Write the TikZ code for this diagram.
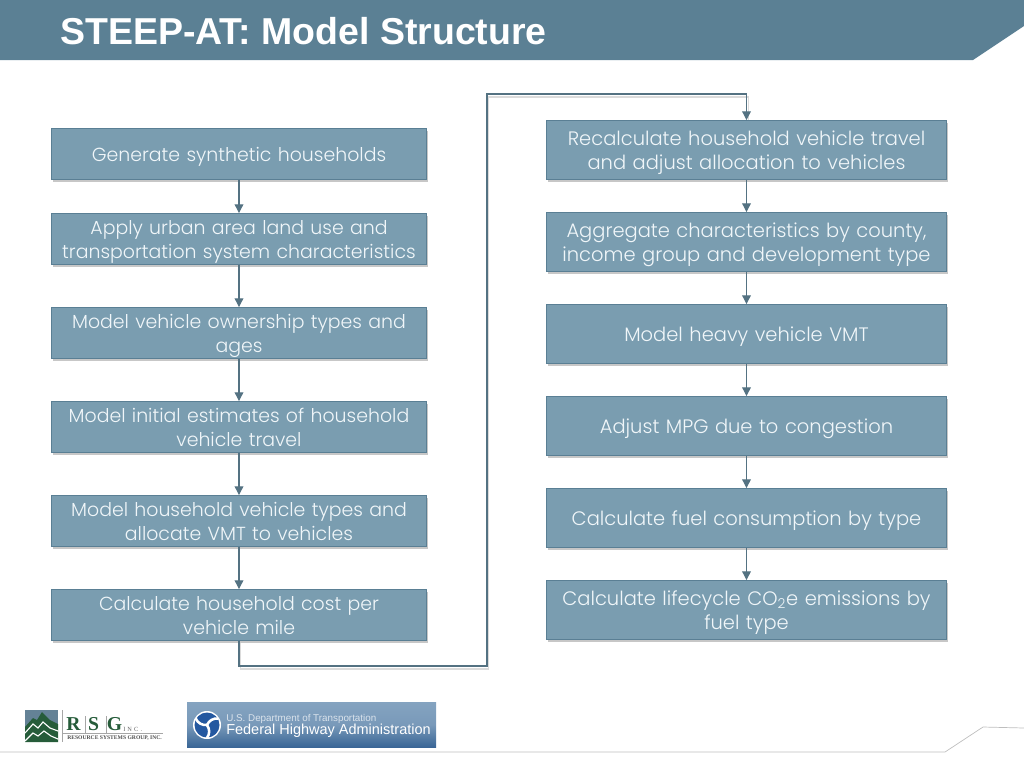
\documentclass[tikz,border=0pt]{standalone}
\usepackage{fontspec}
\setmainfont{Poppins Light}
\newfontfamily\titlefont{Liberation Sans}
\newfontfamily\logofont{Liberation Serif}
\newfontfamily\fhwafont{Liberation Sans}
\usetikzlibrary{arrows.meta, positioning, calc, shadows}
\definecolor{SteepHeader}{RGB}{91, 128, 148}
\definecolor{SteepBox}{RGB}{122, 157, 176}
\definecolor{SteepBorder}{RGB}{90, 127, 148}
\definecolor{SteepLine}{RGB}{84, 114, 130}
\definecolor{SteepText}{RGB}{240, 246, 249}
\definecolor{SteepFoot}{RGB}{190, 190, 190}
\definecolor{RsgGreen}{RGB}{38, 92, 58}
\definecolor{RsgSlate}{RGB}{100, 130, 150}
\definecolor{FhwaTop}{RGB}{132, 163, 192}
\definecolor{FhwaBot}{RGB}{58, 102, 150}
\definecolor{FhwaDisc}{RGB}{36, 88, 160}
\tikzset{
  stagebox/.style={draw=SteepBorder, line width=0.5pt, fill=SteepBox, text=SteepText, align=center,
    inner sep=0pt, text width=93.8mm, font=\fontsize{13.45}{17}\selectfont,
    execute at end node={\vphantom{Ag}\vspace{-1.5mm}},
    drop shadow={shadow xshift=0.4mm, shadow yshift=-0.6mm, opacity=0.4, fill=black!55}},
  flowline/.style={SteepLine, line width=0.8pt, -{Triangle[length=2.2mm, width=2.2mm]}},
}
\begin{document}
\begin{tikzpicture}[x=0.25mm,y=-0.25mm]
  \path[use as bounding box] (0,0) rectangle (1024,768);

  % Header band
  \fill[SteepHeader] (0,0) -- (1024,0) -- (1024,26) -- (973,60) -- (0,60) -- cycle;
  \node[anchor=west, inner sep=0pt, text=white, font=\titlefont\fontsize{26.65}{30}\selectfont\bfseries]
    (title) at (60,31) {STEEP-AT: Model Structure};

  % Footer rule
  \draw[SteepFoot, line width=0.5pt] (0,752) -- (945,752) -- (983,727) -- (1024,728);

  % Link shadow sits under the boxes
  \coordinate (turnlow) at (487,666);
  \coordinate (turnhigh) at (487,94);
  \coordinate (linkfrom) at (239,640);
  \coordinate (linkto) at (747,120);
  \draw[black!14, line width=1.4pt] ([shift={(1.5,3)}]linkfrom) |- ([shift={(1.5,3)}]turnlow)
    -- ([shift={(1.5,3)}]turnhigh) -| ([shift={(1.5,3)}]linkto);

  % Left column
  \foreach \nm/\ya/\yb/\txt in {
    a1/128/180/{Generate synthetic households},
    a2/213/265/{Apply urban area land use and\\transportation system characteristics},
    a3/307/359/{Model vehicle ownership types and\\ages},
    a4/401/453/{Model initial estimates of household\\vehicle travel},
    a5/495/547/{Model household vehicle types and\\allocate VMT to vehicles},
    a6/589/641/{Calculate household cost per\\vehicle mile}}{
    \node[stagebox, minimum width=93.8mm, minimum height={(\yb-\ya)*0.25mm-0.2mm}] (\nm) at (239,{(\ya+\yb)/2}) {\txt};
  }

  % Right column
  \foreach \nm/\ya/\yb/\txt in {
    b1/120/180/{Recalculate household vehicle travel\\and adjust allocation to vehicles},
    b2/212/272/{Aggregate characteristics by county,\\income group and development type},
    b3/304/364/{Model heavy vehicle VMT},
    b4/396/456/{Adjust MPG due to congestion},
    b5/488/548/{Calculate fuel consumption by type},
    b6/580/640/{Calculate lifecycle CO\textsubscript{2}e emissions by\\fuel type}}{
    \node[stagebox, font=\fontsize{13.85}{17}\selectfont, text width=100mm, minimum width=100.1mm, minimum height={(\yb-\ya)*0.25mm-0.2mm}] (\nm) at (746.5,{(\ya+\yb)/2}) {\txt};
  }

  % Arrows down each column
  \foreach \from/\to in {a1/a2, a2/a3, a3/a4, a4/a5, a5/a6, b1/b2, b2/b3, b3/b4, b4/b5, b5/b6}{
    \draw[flowline] (\from) -- (\to);
  }

  % Link between the columns
  \draw[flowline] (a6.south) |- (turnlow) -- (turnhigh) -| (b1.north);

  % RSG logo
  \fill[RsgSlate] (25,710) rectangle (58,730);
  \fill[RsgGreen] (25,727) -- (33,718) -- (37,720) -- (42,712) -- (50,720) -- (58,724) -- (58,742) -- (25,742) -- cycle;
  \draw[white, line width=0.8pt] (25,733) -- (33,724) -- (38,728) -- (43,722) -- (50,728) -- (58,731);
  \draw[white, line width=0.8pt] (25,741) -- (33,733) -- (38,736) -- (44,731) -- (51,736) -- (58,739);
  \draw[black!35, line width=0.4pt] (62,710) -- (62,742) (63,733) -- (163,733) (85,716) -- (85,733) (106,716) -- (106,733);
  \node[inner sep=0pt, text=RsgGreen, font=\logofont\fontsize{14}{14}\selectfont\bfseries] (rsgr) at (73.5,724) {R};
  \node[inner sep=0pt, text=RsgGreen, font=\logofont\fontsize{14}{14}\selectfont\bfseries] (rsgs) at (93.5,724) {S};
  \node[inner sep=0pt, text=RsgGreen, font=\logofont\fontsize{14}{14}\selectfont\bfseries] (rsgg) at (114.5,724) {G};
  \node[anchor=west, inner sep=0pt, text=black!60, font=\logofont\fontsize{4.5}{4}\selectfont] (rsginc) at (123,729) {I\,\,N\,\,C\,\,.};
  \node[anchor=west, inner sep=0pt, text=black!70, font=\logofont\fontsize{4}{4}\selectfont\bfseries] (rsgname) at (67,738.5) {RESOURCE SYSTEMS GROUP, INC.};

  % FHWA banner
  \shade[top color=FhwaTop, bottom color=FhwaBot, middle color=FhwaTop!85!FhwaBot] (187,702) rectangle (436,747);
  \fill[white] (207,725) circle (14);
  \fill[FhwaDisc] (207,725) circle (12.5);
  \foreach \ang in {90,210,330}{
    \draw[white, line width=1.8pt] (207,725) to[bend left=35] ++(\ang:13);
  }
  \node[anchor=west, inner sep=0pt, text=white!70!FhwaTop, font=\fhwafont\fontsize{7}{8}\selectfont] (fhwadept) at (226,718.5) {U.S. Department of Transportation};
  \node[anchor=west, inner sep=0pt, text=white, font=\fhwafont\fontsize{10.3}{12}\selectfont] (fhwaname) at (226,731) {Federal Highway Administration};
\end{tikzpicture}
\end{document}
